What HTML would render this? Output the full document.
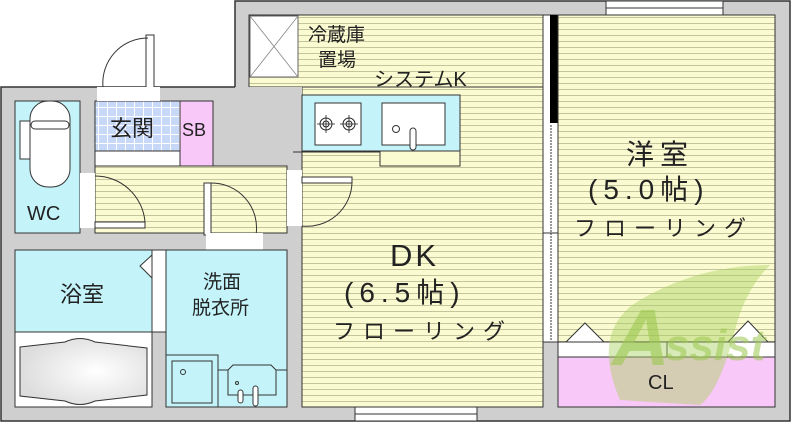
<!DOCTYPE html>
<html><head><meta charset="utf-8"><style>
html,body{margin:0;padding:0;background:#fff;width:791px;height:422px;overflow:hidden}
svg{display:block}
text{font-family:"Liberation Sans","Noto Sans CJK JP",sans-serif;fill:#222}
</style></head><body>
<svg width="791" height="422" viewBox="0 0 791 422" xmlns="http://www.w3.org/2000/svg">
<defs>
<pattern id="fl" width="8" height="6" patternUnits="userSpaceOnUse">
<rect width="8" height="6" fill="#fbfbd2"/><line x1="0" y1="5.5" x2="8" y2="5.5" stroke="#b8b890" stroke-width="0.8"/>
</pattern>
<pattern id="tile" width="9" height="9" patternUnits="userSpaceOnUse">
<rect width="9" height="9" fill="#c8d8f8"/><path d="M0 8.5H9M8.5 0V9" stroke="#fff" stroke-width="1"/>
</pattern>
<radialGradient id="tub" cx="0.6" cy="0.5" r="0.6"><stop offset="0" stop-color="#fff"/><stop offset="1" stop-color="#ddd"/></radialGradient>
</defs>
<path d="M235 1H790V421H1V87H235Z" fill="#cfcfcf" stroke="#333" stroke-width="1.5"/>
<rect x="249" y="15" width="294" height="72" fill="url(#fl)" stroke="#333"/>
<rect x="302" y="87" width="241" height="320" fill="url(#fl)" stroke="#333"/>
<rect x="235" y="87" width="67" height="65" fill="#cfcfcf"/>
<rect x="300" y="150" width="80" height="2" fill="#cfcfcf"/>
<line x1="293" y1="152" x2="380" y2="152" stroke="#333"/>
<rect x="250" y="16" width="48" height="61" fill="#fff" stroke="#666"/>
<path d="M250 16L298 77M298 16L250 77" stroke="#888" stroke-width="0.8"/>
<rect x="302" y="95" width="158" height="56" fill="#c4f4fa" stroke="#333"/>
<rect x="315" y="103" width="46" height="42" fill="#fff" stroke="#333"/>
<g fill="none" stroke="#222"><circle cx="326" cy="124" r="6"/><circle cx="326" cy="124" r="3"/><circle cx="349" cy="124" r="6"/><circle cx="349" cy="124" r="3"/>
<path d="M317 124h18M326 115v18M340 124h18M349 115v18" stroke-width="0.8"/></g>
<rect x="382" y="103" width="63" height="42" fill="#fff" stroke="#333"/>
<circle cx="396" cy="129" r="3.5" fill="none" stroke="#333"/>
<rect x="410" y="128" width="6" height="22" rx="3" fill="#fff" stroke="#333"/>
<rect x="380" y="151" width="80" height="15" fill="#fbfbd2" stroke="#333"/>
<rect x="543" y="15" width="15" height="327" fill="#fff" stroke="#333"/>
<rect x="550" y="15" width="8" height="108" fill="#000"/>
<line x1="551" y1="125" x2="551" y2="340" stroke="#333" stroke-dasharray="2,1"/>
<line x1="543" y1="233" x2="558" y2="233" stroke="#333"/>
<rect x="558" y="15" width="217" height="327" fill="url(#fl)" stroke="#333"/>
<rect x="606" y="1" width="117" height="14" fill="#fff" stroke="#333"/>
<line x1="606" y1="8" x2="723" y2="8" stroke="#333"/>
<rect x="558" y="342" width="217" height="15" fill="#fff" stroke="#333"/>
<line x1="667" y1="342" x2="667" y2="357" stroke="#333"/>
<rect x="558" y="357" width="217" height="50" fill="#f8c8f8" stroke="#333"/>
<path d="M566 342L585 323L604 342Z M728 342L748 321L768 342Z" fill="#fff" stroke="#333"/>
<rect x="355" y="407" width="122" height="14" fill="#fff" stroke="#333"/>
<line x1="355" y1="414" x2="477" y2="414" stroke="#333"/>
<rect x="15" y="101" width="65" height="132" fill="#c4f4fa" stroke="#333"/>
<rect x="30" y="101" width="40" height="86" rx="18" fill="#fff" stroke="#333"/>
<rect x="20" y="121" width="10" height="38" fill="#fff" stroke="#333"/>
<rect x="31" y="121" width="38" height="8" rx="4" fill="#fff" stroke="#333"/>
<rect x="95" y="101" width="85" height="50" fill="url(#tile)" stroke="#333"/>
<rect x="95" y="151" width="85" height="15" fill="#fff" stroke="#333"/>
<rect x="180" y="101" width="33" height="65" fill="#f8c8f8" stroke="#333"/>
<rect x="97" y="87" width="63" height="14" fill="#fff"/>
<path d="M146 87V35h8v52" fill="#fff" stroke="#333"/>
<path d="M103 87A45 45 0 0 1 148 38" fill="none" stroke="#333"/>
<rect x="95" y="166" width="192" height="67" fill="url(#fl)" stroke="#333"/>
<rect x="80" y="173" width="15" height="55" fill="#fff"/>
<path d="M95 222h50v6h-50z" fill="#fff" stroke="#333"/>
<path d="M95 176A50 50 0 0 1 145 222" fill="none" stroke="#333"/>
<rect x="287" y="170" width="15" height="56" fill="#fff"/>
<path d="M302 177h50v6h-50z" fill="#fff" stroke="#333"/>
<path d="M352 183A45 45 0 0 1 302 226" fill="none" stroke="#333"/>
<rect x="204" y="183" width="7" height="52" fill="#fff" stroke="#333"/>
<path d="M211 183A45 45 0 0 1 256 235" fill="none" stroke="#333"/>
<rect x="206" y="233" width="57" height="17" fill="#fff"/>
<rect x="15" y="250" width="137" height="82" fill="#c4f4fa" stroke="#333"/>
<path d="M152 255L140 266L152 278" fill="#fff" stroke="#333"/>
<rect x="152" y="250" width="14" height="82" fill="#fff" stroke="#333"/>
<rect x="15" y="332" width="137" height="75" fill="#fff" stroke="#333"/>
<path d="M20 347L65 342Q80 335 95 342L147 348V395L95 401Q80 408 65 401L20 396Z" fill="url(#tub)" stroke="#333"/>
<rect x="166" y="250" width="121" height="157" fill="#c4f4fa" stroke="#333"/>
<rect x="166" y="355" width="52" height="52" fill="#c4f4fa" stroke="#333"/>
<rect x="172" y="361" width="40" height="42" fill="#c4f4fa" stroke="#333"/>
<circle cx="183" cy="372" r="2.5" fill="none" stroke="#333"/>
<path d="M218 370H228V395H276V370H287M228 370l5-5h38l5 5" fill="none" stroke="#333"/>
<rect x="238" y="390" width="5" height="13" rx="2.5" fill="#fff" stroke="#333"/><rect x="253" y="386" width="5" height="20" rx="2.5" fill="#fff" stroke="#333"/>
<circle cx="237" cy="383" r="1.5" fill="none" stroke="#333"/>
<path d="M620 400Q590 330 640 300Q700 265 770 265Q745 290 735 330Q720 390 700 405Z" fill="#a8d060" opacity="0.45"/>
<text x="612" y="365" font-size="80" font-weight="bold" style="fill:#9cc850" opacity="0.6" font-style="italic">A</text>
<text x="665" y="360" font-size="44" font-weight="bold" style="fill:#9cc850" opacity="0.55" font-style="italic">ssist</text>
<text x="308" y="41" font-size="19">冷蔵庫</text><text x="318" y="66" font-size="19">置場</text>
<text x="374" y="86" font-size="20">システムK</text>
<text x="110" y="136" font-size="22">玄関</text><text x="182" y="136" font-size="18">SB</text>
<text x="27" y="220" font-size="20">WC</text>
<text x="60" y="302" font-size="22">浴室</text>
<text x="203" y="288" font-size="19">洗面</text><text x="192" y="314" font-size="19">脱衣所</text>
<text x="648" y="389" font-size="20">CL</text>
<text x="390" y="266" font-size="31" letter-spacing="3">DK</text>
<text x="344" y="302" font-size="28" letter-spacing="6">(6.5帖)</text>
<text x="333" y="339" font-size="22" letter-spacing="8">フローリング</text>
<text x="626" y="164" font-size="28" letter-spacing="6">洋室</text>
<text x="588" y="199" font-size="28" letter-spacing="6">(5.0帖)</text>
<text x="574" y="236" font-size="22" letter-spacing="8">フローリング</text>
</svg>
</body></html>
